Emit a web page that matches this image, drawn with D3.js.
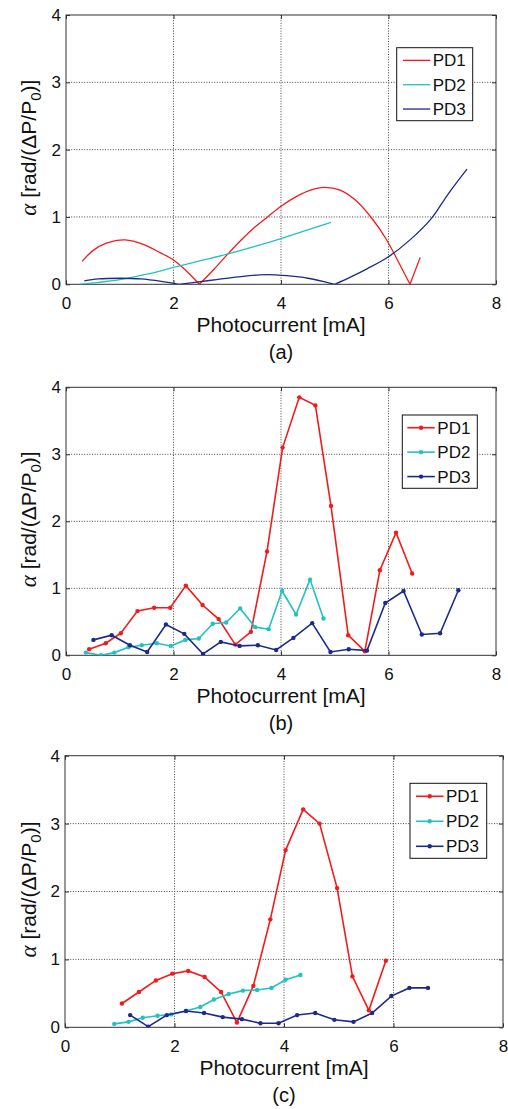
<!DOCTYPE html>
<html>
<head>
<meta charset="utf-8">
<script src="https://cdn.jsdelivr.net/npm/d3@7"></script>
<style>
  body { margin: 0; background: #fff; }
  text { font-family: "Liberation Sans", Arial, sans-serif; fill: #111; }
</style>
</head>
<body>
<div id="chart"></div>
<script>
const xTicks = [0, 2, 4, 6, 8];
const yTicks = [0, 1, 2, 3, 4];
const names = ["PD1", "PD2", "PD3"];
const colors = ["#f21b1b", "#22c2c2", "#1c2a8a"];
const panelLabels = ["(a)", "(b)", "(c)"];

// (a) smooth curves
const aPD1 = [[0.30,0.34],[0.50,0.50],[0.75,0.61],[1.10,0.66],[1.45,0.59],[1.75,0.47],[2.00,0.36],[2.25,0.19],[2.48,0.00],
  [2.75,0.22],[3.00,0.44],[3.25,0.65],[3.50,0.84],[3.75,1.00],[4.00,1.16],[4.30,1.31],[4.55,1.40],[4.80,1.44],[5.10,1.40],
  [5.40,1.24],[5.70,0.97],[5.95,0.68],[6.20,0.31],[6.40,0.00],[6.59,0.40]];
const aPD2 = [[0.25,0.00],[0.50,0.02],[1.00,0.07],[1.50,0.15],[2.00,0.25],[2.50,0.35],[3.00,0.45],[3.50,0.56],[4.00,0.68],
  [4.50,0.81],[4.93,0.92]];
const aPD3 = [[0.34,0.05],[0.60,0.08],[1.00,0.09],[1.40,0.08],[1.80,0.04],[2.10,0.00],[2.40,0.03],[2.80,0.07],[3.20,0.11],
  [3.60,0.14],[3.90,0.14],[4.20,0.12],[4.50,0.09],[4.80,0.04],[5.00,0.00],[5.30,0.11],[5.60,0.23],[6.00,0.41],[6.40,0.66],
  [6.80,0.98],[7.10,1.33],[7.46,1.71]];

// (b) measured
const bPD1 = [[0.43,0.09],[0.74,0.18],[1.02,0.33],[1.33,0.66],[1.64,0.71],[1.94,0.71],[2.23,1.04],[2.54,0.75],[2.84,0.54],
  [3.15,0.16],[3.44,0.35],[3.74,1.55],[4.03,3.10],[4.34,3.85],[4.64,3.73],[4.93,2.23],[5.25,0.30],[5.56,0.06],[5.84,1.27],
  [6.14,1.83],[6.44,1.22]];
const bPD2 = [[0.37,0.04],[0.65,0.00],[0.90,0.04],[1.16,0.12],[1.41,0.15],[1.69,0.18],[1.95,0.14],[2.22,0.23],[2.47,0.25],
  [2.73,0.47],[2.98,0.49],[3.24,0.70],[3.52,0.42],[3.77,0.39],[4.02,0.96],[4.28,0.61],[4.54,1.13],[4.79,0.55]];
const bPD3 = [[0.51,0.23],[0.85,0.30],[1.19,0.15],[1.51,0.05],[1.86,0.46],[2.20,0.32],[2.55,0.02],[2.88,0.20],[3.23,0.14],
  [3.57,0.15],[3.91,0.08],[4.23,0.26],[4.58,0.48],[4.92,0.05],[5.26,0.09],[5.60,0.07],[5.94,0.78],[6.28,0.96],[6.62,0.31],
  [6.96,0.33],[7.30,0.97]];

// (c) measured
const cPD1 = [[1.04,0.35],[1.35,0.52],[1.66,0.69],[1.96,0.79],[2.25,0.83],[2.55,0.74],[2.85,0.52],[3.14,0.07],[3.44,0.61],
  [3.75,1.59],[4.03,2.61],[4.35,3.21],[4.65,3.00],[4.97,2.05],[5.25,0.75],[5.55,0.25],[5.86,0.98]];
const cPD2 = [[0.90,0.05],[1.16,0.08],[1.42,0.14],[1.69,0.17],[1.94,0.19],[2.21,0.24],[2.47,0.30],[2.72,0.41],[2.99,0.49],
  [3.25,0.54],[3.51,0.55],[3.77,0.58],[4.03,0.70],[4.30,0.77]];
const cPD3 = [[1.19,0.18],[1.52,0.01],[1.86,0.18],[2.21,0.24],[2.54,0.21],[2.88,0.15],[3.23,0.12],[3.57,0.06],[3.90,0.06],
  [4.24,0.18],[4.57,0.21],[4.92,0.11],[5.27,0.08],[5.61,0.21],[5.96,0.46],[6.29,0.58],[6.63,0.58]];

const panels = [
  { series: [aPD1, aPD2, aPD3], markers: false, left: 66, right: 496, top: 15, bottom: 284.3,
    legend: { x: 396.7, y: 47.7, w: 76, h: 73, lx: 403, tx: 432.7 } },
  { series: [bPD1, bPD2, bPD3], markers: true, left: 66, right: 496, top: 387.3, bottom: 655.3,
    legend: { x: 402.3, y: 415, w: 75, h: 73.3, lx: 407.3, tx: 437.3 } },
  { series: [cPD1, cPD2, cPD3], markers: true, left: 65, right: 503, top: 755.7, bottom: 1027.3,
    legend: { x: 410, y: 783.3, w: 76.7, h: 75, lx: 416, tx: 446 } }
];

const svg = d3.select("#chart").append("svg")
  .attr("width", 508)
  .attr("height", 1109);

// break a smooth curve at its zero cusps so the V stays sharp
const splitCusps = pts => {
  const parts = [];
  let cur = [];
  pts.forEach((p, i) => {
    cur.push(p);
    if (p[1] === 0 && i > 0 && i < pts.length - 1) {
      parts.push(cur);
      cur = [p];
    }
  });
  parts.push(cur);
  return parts;
};

panels.forEach((p, k) => {
  const x = d3.scaleLinear().domain([0, 8]).range([p.left, p.right]);
  const y = d3.scaleLinear().domain([0, 4]).range([p.bottom, p.top]);
  const g = svg.append("g");

  // grid
  g.selectAll("line.gx").data(xTicks.slice(1, -1)).enter().append("line")
    .attr("x1", d => x(d)).attr("x2", d => x(d))
    .attr("y1", p.top).attr("y2", p.bottom)
    .attr("stroke", "#333").attr("stroke-width", 0.9).attr("stroke-dasharray", "1,1.6");
  g.selectAll("line.gy").data(yTicks.slice(1, -1)).enter().append("line")
    .attr("x1", p.left).attr("x2", p.right)
    .attr("y1", d => y(d)).attr("y2", d => y(d))
    .attr("stroke", "#333").attr("stroke-width", 0.9).attr("stroke-dasharray", "1,1.6");

  // axes with inward ticks
  const ax = (axis, tr, labels) => {
    const a = g.append("g").attr("transform", tr).call(axis);
    a.select(".domain").remove();
    a.selectAll(".tick line").attr("stroke", "#333");
    if (!labels) a.selectAll("text").remove();
    else a.selectAll("text").attr("font-size", 17).attr("fill", "#111");
    return a;
  };
  const fmt = d3.format("d");
  ax(d3.axisBottom(x).tickValues(xTicks).tickFormat(fmt).tickSizeInner(-4).tickSizeOuter(0).tickPadding(13),
     `translate(0,${p.bottom})`, true);
  ax(d3.axisTop(x).tickValues(xTicks).tickSizeInner(-4).tickSizeOuter(0),
     `translate(0,${p.top})`, false);
  ax(d3.axisLeft(y).tickValues(yTicks).tickFormat(fmt).tickSizeInner(-4).tickSizeOuter(0).tickPadding(5),
     `translate(${p.left},0)`, true);
  ax(d3.axisRight(y).tickValues(yTicks).tickSizeInner(-4).tickSizeOuter(0),
     `translate(${p.right},0)`, false);

  g.append("rect")
    .attr("x", p.left).attr("y", p.top)
    .attr("width", p.right - p.left).attr("height", p.bottom - p.top)
    .attr("fill", "none").attr("stroke", "#333").attr("stroke-width", 1);

  // data
  const clipId = "clip" + k;
  g.append("clipPath").attr("id", clipId).append("rect")
    .attr("x", p.left).attr("y", p.top - 5)
    .attr("width", p.right - p.left).attr("height", p.bottom - p.top + 5);
  const plot = g.append("g").attr("clip-path", `url(#${clipId})`);

  const line = d3.line().x(d => x(d[0])).y(d => y(d[1]))
    .curve(p.markers ? d3.curveLinear : d3.curveCatmullRom.alpha(0.5));

  p.series.forEach((s, i) => {
    const parts = p.markers ? [s] : splitCusps(s);
    parts.forEach(part => {
      plot.append("path").datum(part)
        .attr("d", line)
        .attr("fill", "none")
        .attr("stroke", colors[i])
        .attr("stroke-width", p.markers ? 1.6 : 1.3);
    });
    if (p.markers) {
      plot.selectAll("circle.s" + i).data(s).enter().append("circle")
        .attr("cx", d => x(d[0])).attr("cy", d => y(d[1]))
        .attr("r", 2.2).attr("fill", colors[i]);
    }
  });

  // legend
  const L = p.legend;
  g.append("rect").attr("x", L.x).attr("y", L.y).attr("width", L.w).attr("height", L.h)
    .attr("fill", "#fff").attr("stroke", "#111").attr("stroke-width", 1);
  const rowH = L.h / 3;
  names.forEach((n, i) => {
    const cy = L.y + rowH * (i + 0.5) + 0.5;
    g.append("line").attr("x1", L.lx).attr("x2", L.tx - 2.5).attr("y1", cy).attr("y2", cy)
      .attr("stroke", colors[i]).attr("stroke-width", p.markers ? 1.6 : 1.3);
    if (p.markers) {
      g.append("circle").attr("cx", (L.lx + L.tx - 2.5) / 2).attr("cy", cy)
        .attr("r", 2.2).attr("fill", colors[i]);
    }
    g.append("text").attr("x", L.tx).attr("y", cy).attr("dy", "0.36em")
      .attr("font-size", 17).text(n);
  });

  // axis titles
  const cx = (p.left + p.right) / 2;
  g.append("text").attr("x", cx).attr("y", p.bottom + 48)
    .attr("text-anchor", "middle").attr("font-size", 21).text("Photocurrent [mA]");
  g.append("text").attr("x", cx).attr("y", p.bottom + 75)
    .attr("text-anchor", "middle").attr("font-size", 20).text(panelLabels[k]);

  const yl = g.append("text")
    .attr("transform", `translate(36,${(p.top + p.bottom) / 2 - 2}) rotate(-90)`)
    .attr("text-anchor", "middle").attr("font-size", 21);
  yl.append("tspan").attr("font-family", "Liberation Serif").attr("font-style", "italic").attr("font-size", 23).text("α");
  yl.append("tspan").text(" [rad/(ΔP/P");
  yl.append("tspan").attr("font-size", 15).attr("dy", 5).text("0");
  yl.append("tspan").attr("dy", -5).text(")]");
});
</script>
</body>
</html>
